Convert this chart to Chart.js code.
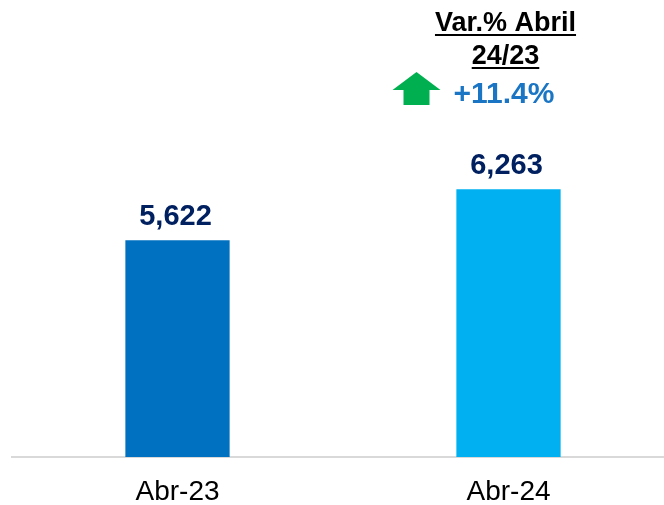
<!DOCTYPE html>
<html lang="es">
<head>
    <meta charset="UTF-8">
    <title>Abril 23 vs 24</title>
    <script src="https://cdn.jsdelivr.net/npm/chart.js"></script>
    <style>
        html, body {
            margin: 0;
            padding: 0;
            overflow: hidden;
            background: #fff;
        }
        #wrap {
            width: 674px;
            height: 505px;
        }
    </style>
</head>
<body>
    <div id="wrap">
        <canvas id="barChart"></canvas>
    </div>

    <script>
        const categories = ['Abr-23', 'Abr-24'];
        const values = [5622, 6263];
        const valueLabels = ['5,622', '6,263'];
        const barColors = ['#0070C0', '#00B0F0'];
        const varTitle = ['Var.% Abril', '24/23'];
        const varValue = '+11.4%';

        const FONT = '"Liberation Sans", Arial, sans-serif';

        // value labels above bars + variation note over the last bar
        const labelsPlugin = {
            id: 'labels',
            afterDatasetsDraw(chart) {
                const ctx = chart.ctx;
                const bars = chart.getDatasetMeta(0).data;
                ctx.save();
                ctx.textAlign = 'center';
                ctx.textBaseline = 'alphabetic';
                ctx.fillStyle = '#002060';
                ctx.font = 'bold 29px ' + FONT;
                bars.forEach((bar, i) => {
                    ctx.fillText(valueLabels[i], bar.x - 2, bar.y - 15);
                });

                const last = bars[bars.length - 1];
                const cx = last.x - 3;
                ctx.fillStyle = '#000';
                ctx.font = 'bold 27px ' + FONT;
                varTitle.forEach((line, i) => {
                    const y = 31 + i * 33;
                    ctx.fillText(line, cx, y);
                    const w = ctx.measureText(line).width;
                    ctx.fillRect(cx - w / 2, y + 3, w, 2);
                });

                ctx.fillStyle = '#1A75C4';
                ctx.font = 'bold 30px ' + FONT;
                ctx.textAlign = 'left';
                ctx.fillText(varValue, last.x - 55, 103);

                // green up arrow
                const ax = last.x - 92;
                ctx.fillStyle = '#00B050';
                ctx.beginPath();
                ctx.moveTo(ax, 72);
                ctx.lineTo(ax + 24, 90);
                ctx.lineTo(ax + 13, 90);
                ctx.lineTo(ax + 13, 105);
                ctx.lineTo(ax - 13, 105);
                ctx.lineTo(ax - 13, 90);
                ctx.lineTo(ax - 24, 90);
                ctx.closePath();
                ctx.fill();
                ctx.restore();
            }
        };

        new Chart(document.getElementById('barChart'), {
            type: 'bar',
            data: {
                labels: categories,
                datasets: [{
                    data: values,
                    backgroundColor: barColors,
                    borderWidth: 0,
                    categoryPercentage: 1,
                    barPercentage: 0.315
                }]
            },
            options: {
                responsive: true,
                maintainAspectRatio: false,
                animation: false,
                layout: { padding: { left: 12, right: 0, top: 0, bottom: 0 } },
                plugins: {
                    legend: { display: false },
                    tooltip: { enabled: false }
                },
                scales: {
                    x: {
                        grid: { display: false },
                        border: { display: true, color: '#D9D9D9', width: 2 },
                        ticks: {
                            color: '#000',
                            padding: 10,
                            font: { family: FONT, size: 28 }
                        },
                        afterFit(scale) {
                            scale.height = 48;
                        }
                    },
                    y: {
                        display: false,
                        min: 2900,
                        max: 8640
                    }
                }
            },
            plugins: [labelsPlugin]
        });
    </script>
</body>
</html>
